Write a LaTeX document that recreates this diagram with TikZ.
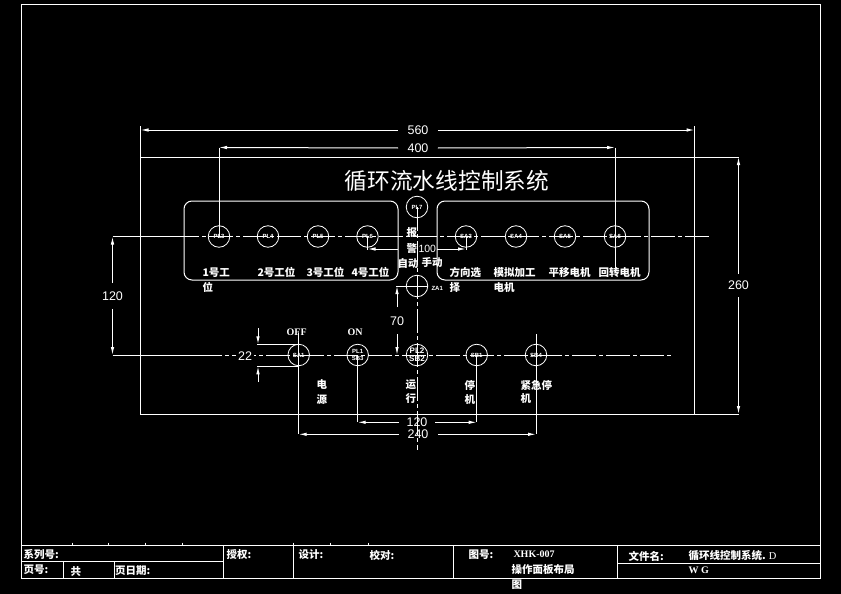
\documentclass[tikz,border=0pt]{standalone}
\usepackage{fontspec}
\setmainfont{Liberation Sans}
\newfontfamily\cjk{Noto Sans CJK SC}
\newfontfamily\serf{Liberation Serif}
\usetikzlibrary{arrows.meta}

\tikzset{
  Lamp/.style = {circle, draw=white, line width=0.8pt, minimum size=21.5pt, inner sep=0pt},
  LampTxt/.style = {text=white, font=\fontsize{6}{6.5}\selectfont\bfseries, inner sep=0pt, align=center},
  Label/.style = {text=white, font=\cjk\bfseries\fontsize{10.5}{12}\selectfont, inner sep=0pt, anchor=west},
  DimTxt/.style = {text=white, font=\fontsize{12.5}{12.5}\selectfont, inner sep=0pt},
  SerifTxt/.style = {text=white, font=\serf\bfseries\fontsize{10}{10}\selectfont, inner sep=0pt},
  DimTip/.style = {-{Latex[length=8pt,width=3.5pt]}},
  CenterLine/.style = {dash pattern=on 24pt off 3pt on 4pt off 3pt}
}

\begin{document}
\begin{tikzpicture}[x=1pt,y=-1pt,white,line width=1pt]
  \fill[black] (0,0) rectangle (841,594);
  \useasboundingbox (0,0) rectangle (841,594);

  % frame and title block
  \draw (21.5,4.5) rectangle (820,578);
  \draw (21.5,545) -- (820,545);
  \draw (21.5,561) -- (223,561);
  \draw (617,563) -- (820,563);
  \draw (63,561) -- (63,578);
  \draw (114,561) -- (114,578);
  \foreach \x in {223,293,453,617}
    \draw (\x,545) -- (\x,578);
  \foreach \x in {72,108,145,182,293,330,368}
    \draw[line width=0.7pt] (\x,542.5) -- (\x,545);

  % panel
  \draw (140.5,157) rectangle (694.5,414);
  \draw[rounded corners=8pt] (184,201) rectangle (398,280);
  \draw[rounded corners=8pt] (437,201) rectangle (649,280);

  % lamps, upper row
  \node[Lamp] (PLa) at (219,236.5) {};
  \node[Lamp] (PLb) at (268,236.5) {};
  \node[Lamp] (PLc) at (318,236.5) {};
  \node[Lamp] (PLd) at (367.5,236.5) {};
  \node[Lamp] (SAa) at (466,236.5) {};
  \node[Lamp] (SAb) at (516,236.5) {};
  \node[Lamp] (SAc) at (565,236.5) {};
  \node[Lamp] (SAd) at (615,236.5) {};
  \node[Lamp] (PLg) at (417,207) {};
  \node[Lamp] (ZA) at (417,286) {};

  % lamps, lower row
  \node[Lamp] (SAe) at (298.7,355) {};
  \node[Lamp] (PLe) at (357.7,355) {};
  \node[Lamp] (PLf) at (417,355) {};
  \node[Lamp] (SBa) at (476.7,355) {};
  \node[Lamp] (SBb) at (536,355) {};

  % center lines
  \coordinate (UpL) at (112.5,236.5);
  \coordinate (UpM) at (175,236.5);
  \coordinate (UpR) at (709,236.5);
  \coordinate (LowL) at (112.5,355);
  \coordinate (LowM) at (198,355);
  \coordinate (LowR) at (673,355);
  \coordinate (VertB) at (417,450);
  \draw (UpL) -- (UpM);
  \draw[CenterLine] (UpM) -- (UpR);
  \draw (LowL) -- (LowM);
  \draw[CenterLine] (LowM) -- (LowR);
  \draw[CenterLine] (PLg.center) -- (VertB);
  \draw (ZA.west) ++(-2,0) -- (ZA.east);

  % dimensions
  \coordinate (TopA) at (140.5,130);
  \coordinate (TopB) at (694.5,130);
  \coordinate (MidA) at (219,147.5);
  \coordinate (MidB) at (615,147.5);
  \draw (140.5,126) -- (140.5,157);
  \draw (694.5,126) -- (694.5,157);
  \draw (219,147.5) -- (PLa.center);
  \draw (615,147.5) -- (615,268);
  \draw (694.5,414) -- (739,414);
  \draw (694.5,157) -- (739,157);

  \node[DimTxt] (DimFive) at (418,130) {560};
  \node[DimTxt] (DimFour) at (418,148) {400};
  \draw[DimTip] (DimFive.west) ++(-9,0) -- (TopA);
  \draw[DimTip] (DimFive.east) ++(9,0) -- (TopB);
  \draw[DimTip] (DimFour.west) ++(-9,0) -- (MidA);
  \draw[DimTip] (DimFour.east) ++(9,0) -- (MidB);

  \node[DimTxt] (DimSix) at (738.5,285.5) {260};
  \draw[DimTip] (DimSix.north) ++(0,-7) -- (738.5,157);
  \draw[DimTip] (DimSix.south) ++(0,7) -- (738.5,414);

  \node[DimTxt] (DimLeft) at (112.5,296) {120};
  \draw[DimTip] (DimLeft.north) ++(0,-8) -- (UpL);
  \draw[DimTip] (DimLeft.south) ++(0,8) -- (LowL);

  \node[DimTxt, anchor=west, font=\fontsize{10.5}{10.5}\selectfont] (DimTen) at (418,249) {100};
  \draw (PLd.center) -- (367.5,250);
  \draw (SAa.center) -- (466,250);
  \draw[DimTip] (398,249) -- (367.5,249);
  \draw[DimTip] (437,249) -- (466,249);

  \node[DimTxt] (DimSev) at (397,321) {70};
  \draw (396,286) -- (ZA.center);
  \draw[DimTip] (397,307) -- (397,286);
  \draw[DimTip] (397,334) -- (397,355);

  \node[DimTxt, fill=black, inner xsep=2pt] (DimTwo) at (245,356) {22};
  \draw (257,344.3) -- (298.7,344.3);
  \draw (257,366.3) -- (298.7,366.3);
  \draw[DimTip] (258,328) -- (258,344.3);
  \draw[DimTip] (258,382) -- (258,366.3);

  \draw (PLe.center) -- (357.7,422.3);
  \draw (SBa.center) -- (476.7,422.3);
  \draw (298.7,333) -- (298.7,434.3);
  \draw (536,334) -- (536,434.3);
  \node[DimTxt] (DimOne) at (417,422.3) {120};
  \node[DimTxt] (DimTw) at (418,434.3) {240};
  \draw[DimTip] (399,422.3) -- (357.7,422.3);
  \draw[DimTip] (435,422.3) -- (476.7,422.3);
  \draw[DimTip] (399,434.3) -- (298.7,434.3);
  \draw[DimTip] (438,434.3) -- (536,434.3);

  % texts in the lamps
  \node[LampTxt] at (PLa) {PL3};
  \node[LampTxt] at (PLb) {PL4};
  \node[LampTxt] at (PLc) {PL5};
  \node[LampTxt] at (PLd) {PL6};
  \node[LampTxt] at (PLg) {PL7};
  \node[LampTxt] at (SAa) {SA3};
  \node[LampTxt] at (SAb) {SA4};
  \node[LampTxt] at (SAc) {SA5};
  \node[LampTxt] at (SAd) {SA6};
  \node[LampTxt] at (SAe) {SA1};
  \node[LampTxt] at (PLe) {PL1\\SB3};
  \node[LampTxt, font=\fontsize{8}{8}\selectfont\bfseries] at (PLf) {PL2\\SB2};
  \node[LampTxt] at (SBa) {SB1};
  \node[LampTxt] at (SBb) {SB4};
  \node[LampTxt, anchor=west] (ZAtxt) at (431,288) {ZA1};

  % title
  \node[text=white, font=\cjk\fontsize{22.7}{24}\selectfont, inner sep=0pt] (Title) at (447,181) {循环流水线控制系统};

  % labels
  \node[Label] at (202,273) {1号工};
  \node[Label] at (202,287) {位};
  \node[Label] at (257,272) {2号工位};
  \node[Label] at (306,272) {3号工位};
  \node[Label] at (351,272) {4号工位};
  \node[Label] at (406,233) {报};
  \node[Label] at (406,248) {警};
  \node[Label] at (397,263) {自动};
  \node[Label] at (421,262) {手动};
  \node[Label] at (449,273) {方向选};
  \node[Label] at (449,288) {择};
  \node[Label] at (493,273) {模拟加工};
  \node[Label] at (493,288) {电机};
  \node[Label] at (548,273) {平移电机};
  \node[Label] at (598,273) {回转电机};
  \node[Label] at (316,385) {电};
  \node[Label] at (316,400) {源};
  \node[Label] at (405,385) {运};
  \node[Label] at (405,399) {行};
  \node[Label] at (464,385) {停};
  \node[Label] at (464,400) {机};
  \node[Label] at (520,385) {紧急停};
  \node[Label] at (520,399) {机};
  \node[SerifTxt] at (296.7,332) {OFF};
  \node[SerifTxt] at (355,332) {ON};

  % title block texts
  \node[Label] at (23,555) {系列号:};
  \node[Label] at (23,570) {页号:};
  \node[Label] at (70,572) {共};
  \node[Label] at (114.5,571) {页日期:};
  \node[Label] at (226,555) {授权:};
  \node[Label] at (298,555) {设计:};
  \node[Label] at (369,555) {校对:};
  \node[Label] at (468,555) {图号:};
  \node[SerifTxt, anchor=west] at (513,554) {XHK-007};
  \node[Label] at (511,570) {操作面板布局};
  \node[Label] at (511,585) {图};
  \node[Label] at (628,556) {文件名:};
  \node[Label] at (688,556) {循环线控制系统. {\serf\mdseries D}};
  \node[SerifTxt, anchor=west] at (688,570) {W G};
\end{tikzpicture}
\end{document}
